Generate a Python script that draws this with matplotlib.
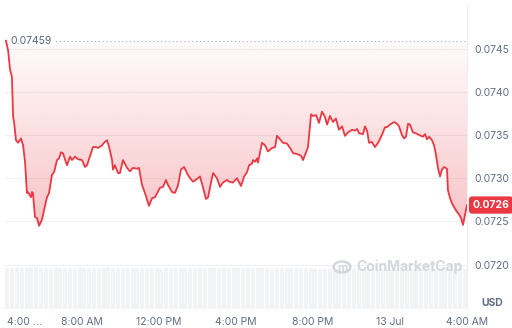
import numpy as np
import matplotlib
matplotlib.use("Agg")
import matplotlib.pyplot as plt
from matplotlib.patches import Circle, Polygon
from matplotlib.transforms import blended_transform_factory

plt.rcParams['font.family'] = ['Inter', 'DejaVu Sans']

# DATA: hours since 4:00 AM (12 Jul) and price in USD
hours = [0.05, 0.16, 0.26, 0.36, 0.42, 0.47, 0.57, 0.68, 0.83, 0.94,
         1.04, 1.14, 1.19, 1.35, 1.40, 1.45, 1.56, 1.66, 1.77, 1.92,
         2.03, 2.18, 2.29, 2.44, 2.55, 2.70, 2.81, 2.91, 3.01, 3.22,
         3.38, 3.48, 3.64, 3.79, 4.00, 4.16, 4.26, 4.42, 4.57, 4.73,
         4.83, 5.04, 5.14, 5.30, 5.40, 5.56, 5.61, 5.71, 5.87, 5.97,
         6.13, 6.34, 6.49, 6.65, 6.86, 6.96, 7.12, 7.27, 7.48, 7.64,
         7.79, 8.05, 8.21, 8.36, 8.47, 8.68, 8.83, 8.99, 9.14, 9.30,
         9.45, 9.61, 9.77, 9.97, 10.13, 10.29, 10.44, 10.55, 10.70, 10.81,
         11.01, 11.17, 11.32, 11.53, 11.64, 11.84, 12.05, 12.26, 12.42, 12.57,
         12.68, 12.83, 12.88, 12.99, 13.09, 13.14, 13.35, 13.51, 13.66, 13.87,
         14.03, 14.13, 14.29, 14.44, 14.65, 14.81, 14.96, 15.17, 15.38, 15.48,
         15.64, 15.74, 15.90, 16.00, 16.16, 16.31, 16.47, 16.62, 16.73, 16.88,
         17.04, 17.19, 17.35, 17.51, 17.66, 17.82, 18.03, 18.18, 18.29, 18.39,
         18.60, 18.70, 18.81, 18.91, 19.06, 19.22, 19.38, 19.58, 19.74, 19.84,
         20.00, 20.21, 20.36, 20.47, 20.62, 20.73, 20.83, 20.94, 21.04, 21.19,
         21.35, 21.51, 21.71, 21.82, 21.92, 22.03, 22.18, 22.29, 22.39, 22.49,
         22.60, 22.70, 22.81, 22.96, 23.01, 23.12, 23.22, 23.32, 23.48, 23.53,
         23.69, 23.79, 23.90, 24.00]
prices = [0.07459, 0.07448, 0.07426, 0.07417, 0.07371, 0.07365, 0.07344, 0.07341, 0.07346, 0.07338,
          0.07319, 0.07283, 0.07284, 0.07278, 0.07284, 0.07283, 0.07255, 0.07254, 0.07245, 0.07252,
          0.07263, 0.07278, 0.07283, 0.07304, 0.07307, 0.07321, 0.07323, 0.07330, 0.07329, 0.07315,
          0.07325, 0.07321, 0.07325, 0.07322, 0.07321, 0.07313, 0.07315, 0.07326, 0.07336, 0.07336,
          0.07335, 0.07338, 0.07341, 0.07344, 0.07337, 0.07321, 0.07310, 0.07315, 0.07306, 0.07306,
          0.07321, 0.07312, 0.07308, 0.07312, 0.07311, 0.07312, 0.07292, 0.07283, 0.07268, 0.07277,
          0.07278, 0.07289, 0.07290, 0.07298, 0.07292, 0.07284, 0.07283, 0.07292, 0.07310, 0.07313,
          0.07306, 0.07300, 0.07296, 0.07299, 0.07302, 0.07289, 0.07276, 0.07278, 0.07295, 0.07306,
          0.07300, 0.07290, 0.07295, 0.07298, 0.07296, 0.07295, 0.07300, 0.07291, 0.07302, 0.07307,
          0.07315, 0.07317, 0.07321, 0.07319, 0.07323, 0.07318, 0.07341, 0.07338, 0.07331, 0.07335,
          0.07336, 0.07349, 0.07345, 0.07341, 0.07340, 0.07335, 0.07329, 0.07328, 0.07326, 0.07321,
          0.07330, 0.07336, 0.07374, 0.07372, 0.07373, 0.07364, 0.07377, 0.07371, 0.07362, 0.07372,
          0.07365, 0.07369, 0.07356, 0.07360, 0.07349, 0.07353, 0.07356, 0.07355, 0.07357, 0.07352,
          0.07351, 0.07360, 0.07355, 0.07341, 0.07342, 0.07336, 0.07341, 0.07350, 0.07359, 0.07359,
          0.07362, 0.07365, 0.07363, 0.07360, 0.07350, 0.07346, 0.07348, 0.07363, 0.07362, 0.07353,
          0.07352, 0.07350, 0.07348, 0.07351, 0.07345, 0.07348, 0.07344, 0.07338, 0.07327, 0.07312,
          0.07302, 0.07310, 0.07313, 0.07311, 0.07286, 0.07277, 0.07271, 0.07267, 0.07261, 0.07260,
          0.07254, 0.07246, 0.07258, 0.07269]

open_price = 0.07459
current_price_label = "0.0726"

# volume, one bar per 15 minutes (relative units)
volume = [41, 41, 42, 41, 41, 42, 42, 41, 41, 41, 42, 41,
          41, 41, 41, 42, 41, 41, 41, 41, 41, 42, 41, 41,
          41, 41, 41, 41, 41, 41, 41, 41, 40, 41, 41, 41,
          41, 41, 41, 41, 41, 41, 41, 41, 41, 41, 41, 41,
          41, 41, 41, 41, 41, 41, 41, 40, 41, 41, 41, 41,
          41, 41, 41, 41, 40, 40, 40, 40, 40, 40, 40, 40,
          40, 40, 40, 40, 40, 40, 40, 40, 40, 40, 40, 40,
          40, 40, 40, 40, 40, 40, 40, 40, 40, 40, 40, 40]

y_ticks = [0.0720, 0.0725, 0.0730, 0.0735, 0.0740, 0.0745]
x_ticks = [1.0, 4, 8, 12, 16, 20, 24]
x_labels = ["4:00 ...", "8:00 AM", "12:00 PM", "4:00 PM", "8:00 PM", "13 Jul", "4:00 AM"]

RED = '#ea3943'
GRAY = '#616e85'
GRID = '#eef0f3'

W, H = 512, 328
fig = plt.figure(figsize=(W / 100, H / 100), dpi=100)
fig.patch.set_facecolor('white')

# main price axes
ax = fig.add_axes([5 / W, 19 / H, 462 / W, 304 / H])
ax.set_xlim(0, 24)
ax.set_ylim(0.071488, 0.075003)
for s in ax.spines.values():
    s.set_visible(False)
ax.spines['right'].set_visible(True)
ax.spines['right'].set_color(GRID)
ax.spines['right'].set_linewidth(0.8)
ax.set_facecolor('none')

# volume axes (behind)
vax = fig.add_axes([5 / W, 19 / H, 462 / W, 42 / H], zorder=-1)
vx = np.arange(len(volume)) * 0.25 + 0.125
vax.bar(vx, volume, width=0.21, color='#f2f3f5', linewidth=0)
vax.set_xlim(0, 24)
vax.set_ylim(0, 42)
vax.axis('off')

ax.yaxis.tick_right()
ax.set_yticks(y_ticks)
ax.set_yticklabels([f"{v:.4f}" for v in y_ticks])
ax.tick_params(axis='y', length=0, pad=5, labelsize=7.5, labelcolor=GRAY)
ax.set_xticks(x_ticks)
ax.set_xticklabels(x_labels)
ax.tick_params(axis='x', length=0, pad=6, labelsize=7.5, labelcolor=GRAY)
ax.grid(axis='y', color=GRID, linewidth=0.8)
ax.set_axisbelow(True)

t = np.array(hours)
p = np.array(prices)

# gradient fill between the price line and the open price
poly_pts = np.vstack([np.column_stack([t, p]),
                      [[t[-1], open_price], [t[0], open_price]]])
clip = Polygon(poly_pts, closed=True, facecolor='none', edgecolor='none')
ax.add_patch(clip)
grad = np.linspace(0.02, 0.30, 256).reshape(-1, 1)
rgba = np.zeros((256, 1, 4))
rgba[..., 0], rgba[..., 1], rgba[..., 2] = matplotlib.colors.to_rgb(RED)
rgba[..., 3] = grad
img = ax.imshow(rgba, aspect='auto', origin='upper',
                extent=[t[0], t[-1], p.min(), open_price], zorder=1)
img.set_clip_path(clip)

ax.plot(t, p, color=RED, linewidth=1.3, zorder=3)

# open price reference
ax.axhline(open_price, color='#a6b0c3', linestyle=(0, (1, 2.5)), linewidth=0.8, zorder=2)
ax.text(0.3, open_price, f"{open_price:.5f}", fontsize=7.5, color='#58667e',
        va='center', ha='left', zorder=4,
        bbox=dict(boxstyle='square,pad=0.15', fc='white', ec='none'))
ax.set_ylim(0.071488, 0.075003)

# current price tag
tr = blended_transform_factory(ax.transAxes, ax.transData)
ax.text(1.012, p[-1], current_price_label, transform=tr, fontsize=7.5, color='white',
        fontweight='bold', va='center', ha='left', zorder=5, clip_on=False,
        bbox=dict(boxstyle='round,pad=0.35,rounding_size=0.3', fc=RED, ec='none'))

fig.text(492 / W, 1 - 303 / H, "USD", fontsize=7.5, color=GRAY, fontweight='bold',
         ha='center', va='center')

# watermark
wm = '#d3d7dd'
fig.patches.append(Circle((342 / W, 1 - 267 / H), 8.5 / W, transform=fig.transFigure,
                          fill=False, edgecolor=wm, linewidth=1.8))
fig.text(342 / W, 1 - 268 / H, "m", fontsize=8, color=wm, fontweight='bold',
         ha='center', va='center')
fig.text(356 / W, 1 - 267 / H, "CoinMarketCap", fontsize=10, color=wm,
         fontweight='bold', ha='left', va='center')

fig.savefig('out.png', dpi=100, facecolor='white')
